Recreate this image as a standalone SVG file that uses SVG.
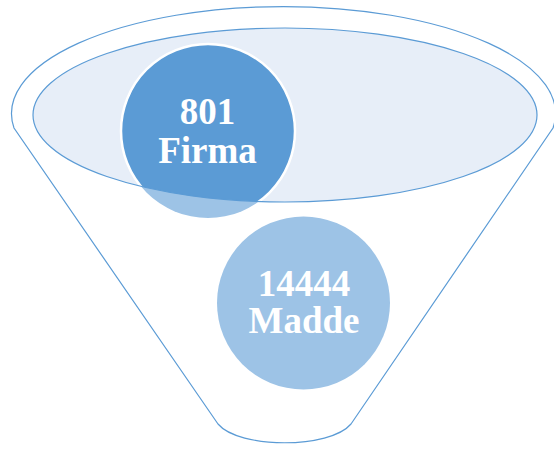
<svg xmlns="http://www.w3.org/2000/svg" width="554" height="449" viewBox="0 0 554 449">
  <style>
    .outline { fill: none; stroke: #5B9BD5; stroke-width: 1.2; }
    .rim { fill: #E7EEF8; }
    .rimline { fill: none; stroke: #5B9BD5; stroke-width: 1.2; }
    .light { fill: #9DC3E6; }
    .dark { fill: #5B9BD5; stroke: #FFFFFF; stroke-width: 2.5; }
    .label { font-family: "Liberation Serif", "Times New Roman", serif; font-weight: bold; font-size: 37px; fill: #FFFFFF; text-anchor: middle; }
  </style>
  <defs>
    <clipPath id="rimClip">
      <ellipse cx="285" cy="115" rx="252" ry="87"/>
    </clipPath>
  </defs>
  <rect width="554" height="449" fill="#FFFFFF"/>
  <g id="funnel">
    <path class="outline" d="M14,128 A272,107 0 1 1 553,128 L351,424 C330,449 239,449 218,424 Z"/>
    <ellipse class="rim" cx="285" cy="115" rx="252" ry="87"/>
  </g>
  <g id="node-801">
    <circle class="light" cx="208" cy="131" r="87"/>
    <circle class="dark" cx="208" cy="131" r="87" clip-path="url(#rimClip)"/>
    <text class="label" x="207.5" y="124">801</text>
    <text class="label" x="207.5" y="163">Firma</text>
  </g>
  <g id="rim-edge">
    <ellipse class="rimline" cx="285" cy="115" rx="252" ry="87"/>
  </g>
  <g id="node-14444">
    <circle class="light" cx="303.5" cy="303" r="86.5"/>
    <text class="label" x="304" y="296">14444</text>
    <text class="label" x="304" y="333">Madde</text>
  </g>
</svg>
